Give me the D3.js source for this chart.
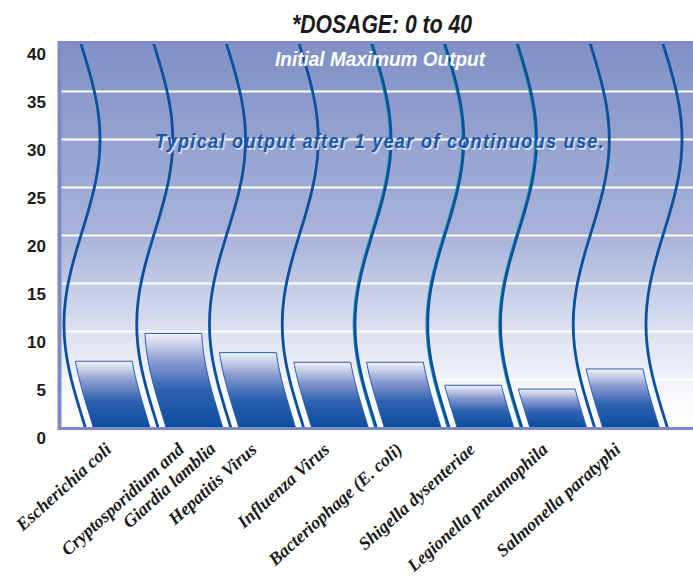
<!DOCTYPE html>
<html>
<head>
<meta charset="utf-8">
<script src="https://cdn.jsdelivr.net/npm/d3@7"></script>
<style>
  body { margin: 0; background: #fff; }
  svg { display: block; }
</style>
</head>
<body>
<svg width="693" height="578"></svg>
<script>
const categories = [
  "Escherichia coli",
  "Cryptosporidium and\nGiardia lamblia",
  "Hepatitis Virus",
  "Influenza Virus",
  "Bacteriophage (E. coli)",
  "Shigella dysenteriae",
  "Legionella pneumophila",
  "Salmonella paratyphi"
];
const values = [6.9, 9.8, 7.8, 6.8, 6.8, 4.4, 4.0, 6.1];
const yTicks = [0, 5, 10, 15, 20, 25, 30, 35, 40];
const title = "*DOSAGE: 0 to 40";
const topNote = "Initial Maximum Output";
const midNote = "Typical output after 1 year of continuous use.";

const svg = d3.select("svg");
const plot = { left: 60, top: 43.5, right: 693, bottom: 427.5 };

const y = d3.scaleLinear().domain([0, 40]).range([plot.bottom, plot.top]);
const x = d3.scaleBand()
  .domain(categories)
  .range([82, 82 + 8 * 72.75])
  .padding(0);

// wavy divider lines, one at each band edge
const edges = categories.map(c => x(c)).concat([x.range()[1]]);
const amp = 18, period = 38.5, peak = 30;
const wave = (base, v) => base + amp * Math.cos(2 * Math.PI * (v - peak) / period);

const defs = svg.append("defs");
const bg = defs.append("linearGradient").attr("id", "bg")
  .attr("x1", 0).attr("y1", 0).attr("x2", 0).attr("y2", 1);
[[0, "#8191c6"], [0.5, "#a9b3da"], [0.75, "#dde1f0"], [0.9, "#f6f7fb"], [1, "#ffffff"]]
  .forEach(([o, c]) => bg.append("stop").attr("offset", o).attr("stop-color", c));

const barGrad = defs.append("linearGradient").attr("id", "bar")
  .attr("x1", 0).attr("y1", 0).attr("x2", 0).attr("y2", 1);
[[0, "#f2f3fa"], [0.3, "#8a9ad0"], [0.6, "#2e62b0"], [1, "#0a4d9e"]]
  .forEach(([o, c]) => barGrad.append("stop").attr("offset", o).attr("stop-color", c));

// background
svg.append("rect")
  .attr("x", plot.left).attr("y", plot.top)
  .attr("width", plot.right - plot.left).attr("height", plot.bottom - plot.top)
  .attr("fill", "url(#bg)");

// gridlines
svg.append("g")
  .selectAll("line")
  .data(yTicks.filter(d => d > 0 && d < 40))
  .enter().append("line")
  .attr("x1", plot.left).attr("x2", plot.right)
  .attr("y1", d => y(d)).attr("y2", d => y(d))
  .attr("stroke", "#fff").attr("stroke-width", 2);

// bars shaped between the wavy lines
const gap = 8;
const barPath = (d, i) => {
  const steps = d3.range(0, 21).map(k => d.v * k / 20);
  const left = steps.map(v => [wave(edges[i], v) + gap, y(v)]);
  const right = steps.slice().reverse().map(v => [wave(edges[i + 1], v) - gap, y(v)]);
  return d3.line()(left.concat(right)) + "Z";
};
svg.append("g")
  .selectAll("path")
  .data(values.map(v => ({ v })))
  .enter().append("path")
  .attr("d", barPath)
  .attr("fill", "url(#bar)")
  .attr("stroke", "#2a5ca8")
  .attr("stroke-width", 1);

// wavy lines
const waveLine = base => d3.line()(d3.range(0, 40.01, 0.5).map(v => [wave(base, v), y(v)]));
const waves = svg.append("g");
edges.forEach((e, i) => {
  if (i >= 4 && i <= 6) {
    waves.append("path").attr("d", waveLine(e - 1.6))
      .attr("fill", "none").attr("stroke", "#1fa3a8").attr("stroke-width", 1.4);
  }
  waves.append("path").attr("d", waveLine(e))
    .attr("fill", "none").attr("stroke", "#0b4f9f").attr("stroke-width", 2.8);
});

// frame
const frame = svg.append("g").attr("stroke", "#7c8bc7").attr("fill", "none");
frame.append("line").attr("x1", plot.left).attr("x2", plot.right)
  .attr("y1", plot.top - 1).attr("y2", plot.top - 1).attr("stroke-width", 3);
frame.append("line").attr("x1", plot.left).attr("x2", plot.right)
  .attr("y1", plot.bottom + 1).attr("y2", plot.bottom + 1).attr("stroke-width", 3);
frame.append("line").attr("x1", plot.left - 0.5).attr("x2", plot.left - 0.5)
  .attr("y1", plot.top - 2.5).attr("y2", plot.bottom + 2.5).attr("stroke-width", 4);

// y axis
const yAxis = svg.append("g")
  .attr("transform", "translate(46,0)")
  .call(d3.axisLeft(y).tickValues(yTicks).tickSize(0).tickPadding(0));
yAxis.select(".domain").remove();
yAxis.selectAll("text")
  .attr("dy", "0.95em")
  .attr("fill", "#1a1a1a")
  .style("font-family", "'Liberation Sans', Arial, sans-serif")
  .style("font-weight", "bold")
  .style("font-size", "17px");

// x labels
const labels = svg.append("g")
  .style("font-family", "'Liberation Serif', 'Times New Roman', serif")
  .style("font-style", "italic")
  .style("font-weight", "bold")
  .style("font-size", "18px")
  .attr("fill", "#1a1a1a");
categories.forEach(c => {
  const t = labels.append("text")
    .attr("text-anchor", "end")
    .attr("transform", `translate(${x(c) + x.bandwidth() / 2 - 6},451) rotate(-42)`);
  c.split("\n").forEach((line, k) => {
    t.append("tspan").attr("x", k * 24).attr("dy", k ? "1.15em" : 0).text(line);
  });
});

// titles and notes (condensed look via textLength)
const sans = "'Liberation Sans', Arial, sans-serif";
svg.append("text")
  .attr("x", 292).attr("y", 33)
  .attr("textLength", 180).attr("lengthAdjust", "spacingAndGlyphs")
  .style("font-family", sans).style("font-weight", "bold").style("font-style", "italic")
  .style("font-size", "25px").attr("fill", "#1a1a1a")
  .text(title);

svg.append("text")
  .attr("x", 275).attr("y", 66)
  .attr("textLength", 210).attr("lengthAdjust", "spacingAndGlyphs")
  .style("font-family", sans).style("font-weight", "bold").style("font-style", "italic")
  .style("font-size", "20px").attr("fill", "#fff")
  .text(topNote);

[["#d7dbe9", 1.5], ["#1957a8", 0]].forEach(([col, off]) => {
  svg.append("text")
    .attr("x", 155 + off).attr("y", 148 + off)
    .attr("textLength", 450).attr("lengthAdjust", "spacingAndGlyphs")
    .style("font-family", sans).style("font-weight", "bold").style("font-style", "italic")
    .style("font-size", "20px").style("letter-spacing", "1.5px").attr("fill", col)
    .text(midNote);
});
</script>
</body>
</html>
